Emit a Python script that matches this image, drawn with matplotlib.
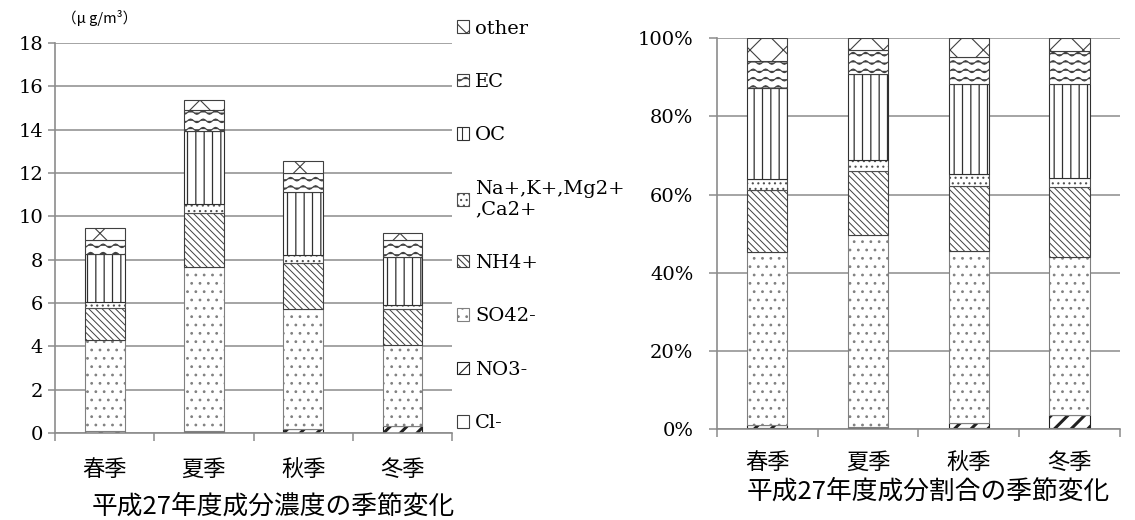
import warnings

import numpy as np
import matplotlib
matplotlib.use("Agg")
import matplotlib.pyplot as plt
import matplotlib.hatch as mhatch
from matplotlib.path import Path

# '~' is not a stock hatch; silence the validator about it
warnings.filterwarnings("ignore", message="hatch must consist")

seasons = ["春季", "夏季", "秋季", "冬季"]
components = ["Cl-", "NO3-", "SO42-", "NH4+", "Na+,K+,Mg2+\n,Ca2+", "OC", "EC", "other"]

# concentrations (ug/m3) per season
cl = [0.02, 0.03, 0.02, 0.02]
no3 = [0.07, 0.04, 0.18, 0.31]
so4 = [4.20, 7.58, 5.52, 3.73]
nh4 = [1.50, 2.49, 2.11, 1.66]
ions = [0.25, 0.43, 0.38, 0.21]
oc = [2.20, 3.38, 2.90, 2.21]
ec = [0.66, 0.98, 0.87, 0.77]
other = [0.55, 0.44, 0.59, 0.31]

conc_ticks = [0, 2, 4, 6, 8, 10, 12, 14, 16, 18]
pct_ticks = [0, 20, 40, 60, 80, 100]
pct_labels = [f"{t}%" for t in pct_ticks]

unit_label = "（μ g/m³）"
title_conc = "平成27年度成分濃度の季節変化"
title_pct = "平成27年度成分割合の季節変化"


class WaveHatch(mhatch.HatchPatternBase):
    """Rows of sine waves, selected with '~'."""
    periods = 8
    pts = 8

    def __init__(self, hatch, density):
        self.num_rows = int(hatch.count('~') * density)
        self.n = self.periods * self.pts + 1
        self.num_vertices = self.num_rows * self.n

    def set_vertices_and_codes(self, vertices, codes):
        x = np.linspace(0, 1, self.n)
        wave = 0.018 * np.sin(2 * np.pi * self.periods * x)
        for i in range(self.num_rows):
            y = (i + 0.5) / self.num_rows
            sl = slice(i * self.n, (i + 1) * self.n)
            vertices[sl, 0] = x
            vertices[sl, 1] = y + wave
            codes[sl] = Path.LINETO
            codes[i * self.n] = Path.MOVETO


mhatch._hatch_types.append(WaveHatch)

plt.rcParams['hatch.linewidth'] = 0.8
serif = ['DejaVu Serif']
cjk = ['Noto Sans CJK JP', 'DejaVu Sans']

hatches = ['', '//', '..', '\\\\\\\\\\', '...', '||', '~~', 'x']
edges = ['#404040', '#202020', '#808080', '#404040', '#505050', '#303030', '#404040', '#404040']
hatch_widths = [0.8, 2.2, 0.8, 0.7, 0.8, 0.9, 0.8, 0.8]
grid_c = '#8c8c8c'

series = [cl, no3, so4, nh4, ions, oc, ec, other]
data = np.array(series)
pct = data / data.sum(axis=0) * 100

fig = plt.figure(figsize=(11.35, 5.2), dpi=100)
ax1 = fig.add_axes([0.0485, 0.1673, 0.3498, 0.75])
ax2 = fig.add_axes([0.6315, 0.175, 0.3553, 0.7513])


def stacked(ax, values):
    x = np.arange(len(seasons))
    bottom = np.zeros(len(seasons))
    bars = []
    for vals, h, ec_, hw, name in zip(values, hatches, edges, hatch_widths, components):
        b = ax.bar(x, vals, 0.4, bottom=bottom, color='white', edgecolor=ec_,
                   hatch=h, linewidth=0.8, label=name, zorder=2)
        for p in b:
            p.set_hatch_linewidth(hw)
        bars.append(b)
        bottom = bottom + vals
    return bars


def style(ax, ytick_pad, ytick_len, xlab_pad):
    for s in ['top', 'right']:
        ax.spines[s].set_visible(False)
    for s in ['left', 'bottom']:
        ax.spines[s].set_color(grid_c)
        ax.spines[s].set_linewidth(1.2)
    ax.yaxis.grid(True, color=grid_c, linewidth=1.1)
    ax.set_axisbelow(True)
    ax.set_xlim(-0.5, 3.5)
    ax.set_xticks([-0.5, 0.5, 1.5, 2.5, 3.5])
    ax.set_xticklabels([])
    ax.set_xticks(range(len(seasons)), seasons, minor=True)
    ax.tick_params(axis='x', which='major', length=6, width=1.1, color=grid_c)
    ax.tick_params(axis='x', which='minor', length=0, pad=xlab_pad, labelsize=16)
    ax.tick_params(axis='y', length=ytick_len, width=1.1, color=grid_c,
                   pad=ytick_pad, labelsize=14)
    for lab in ax.get_xticklabels(minor=True):
        lab.set_family(cjk)
    for lab in ax.get_yticklabels():
        lab.set_family(serif)


bars1 = stacked(ax1, data)
ax1.set_ylim(0, 18)
ax1.set_yticks(conc_ticks)
style(ax1, 3.5, 5, 18)
ax1.set_xlabel(title_conc, fontsize=18.5, family=cjk)
ax1.xaxis.set_label_coords(0.549, -0.19)
ax1.xaxis.label.set_va('center')

stacked(ax2, pct)
ax2.set_ylim(0, 100)
ax2.set_yticks(pct_ticks, pct_labels)
style(ax2, 11, 5.7, 16)
ax2.set_xlabel(title_pct, fontsize=18.5, family=cjk)
ax2.xaxis.set_label_coords(0.525, -0.16)
ax2.xaxis.label.set_va('center')

fig.text(62 / 1135, 1 - 18 / 520, unit_label, fontsize=10.5, family=cjk,
         ha='left', va='center')

handles = bars1[::-1]
ax1.legend(handles, [b.get_label() for b in handles], loc='upper left',
           bbox_to_anchor=(1.0126, 1.06), frameon=False,
           prop={'family': serif, 'size': 14}, handlelength=0.62,
           handleheight=0.62, handletextpad=0.3, labelspacing=1.82,
           borderaxespad=0, borderpad=0)

fig.savefig("out.png", dpi=100)
